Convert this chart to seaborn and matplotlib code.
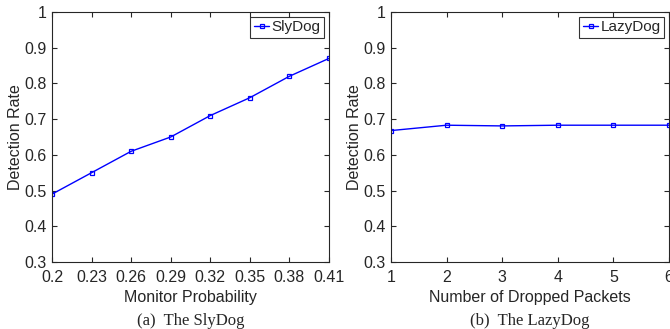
import numpy as np
import pandas as pd
import matplotlib
matplotlib.use("Agg")
import matplotlib.pyplot as plt
import seaborn as sns

# data
monitor_prob = [0.2, 0.23, 0.26, 0.29, 0.32, 0.35, 0.38, 0.41]
slydog_rate = [0.49, 0.55, 0.61, 0.65, 0.71, 0.76, 0.82, 0.87]

dropped_packets = [1, 2, 3, 4, 5, 6]
lazydog_rate = [0.668, 0.683, 0.681, 0.683, 0.683, 0.683]

sns.set_style("ticks")
plt.rcParams["font.family"] = ["Liberation Sans", "DejaVu Sans"]
plt.rcParams["xtick.direction"] = "in"
plt.rcParams["ytick.direction"] = "in"

fig = plt.figure(figsize=(6.7, 3.29), dpi=100)
ax1 = fig.add_axes([0.0776, 0.2036, 0.4134, 0.760])
ax2 = fig.add_axes([0.5836, 0.2036, 0.4150, 0.760])

df1 = pd.DataFrame({"x": monitor_prob, "y": slydog_rate})
df2 = pd.DataFrame({"x": dropped_packets, "y": lazydog_rate})

panels = [
    (ax1, df1, "SlyDog", "Monitor Probability", monitor_prob, "(a)  The SlyDog"),
    (ax2, df2, "LazyDog", "Number of Dropped Packets", dropped_packets, "(b)  The LazyDog"),
]

for ax, df, name, xlabel, xt, caption in panels:
    sns.lineplot(data=df, x="x", y="y", ax=ax, color="blue", lw=1,
                 marker="s", markersize=3.5, markerfacecolor="none",
                 markeredgecolor="blue", markeredgewidth=0.9, label=name)
    ax.set_xlim(xt[0], xt[-1])
    ax.set_ylim(0.3, 1.0)
    ax.set_xticks(xt)
    ax.set_xticklabels([f"{v:g}" for v in xt])
    ax.set_yticks(np.arange(0.3, 1.01, 0.1))
    ax.set_yticklabels(["0.3", "0.4", "0.5", "0.6", "0.7", "0.8", "0.9", "1"])
    ax.tick_params(axis="both", labelsize=11.5, top=True, right=True, length=3.5,
                   width=0.8, colors="#262626")
    ax.tick_params(axis="x", pad=6)
    ax.tick_params(axis="y", pad=4)
    ax.set_xlabel(xlabel, fontsize=11.5, color="#262626", labelpad=3)
    ax.set_ylabel("Detection Rate", fontsize=11.5, color="#262626", labelpad=1)
    for s in ax.spines.values():
        s.set_linewidth(0.8)
        s.set_color("#262626")
    leg = ax.legend(loc="upper right", fontsize=11, frameon=True, fancybox=False,
                    handlelength=1.0, handletextpad=0.15, borderpad=0.25,
                    borderaxespad=0.3)
    leg.get_frame().set_edgecolor("black")
    leg.get_frame().set_linewidth(0.8)
    pos = ax.get_position()
    fig.text(pos.x0 + pos.width / 2, 0.0, caption, ha="center", va="bottom",
             fontsize=12, family=["Liberation Serif", "DejaVu Serif"])

fig.savefig("out.png", dpi=100)
